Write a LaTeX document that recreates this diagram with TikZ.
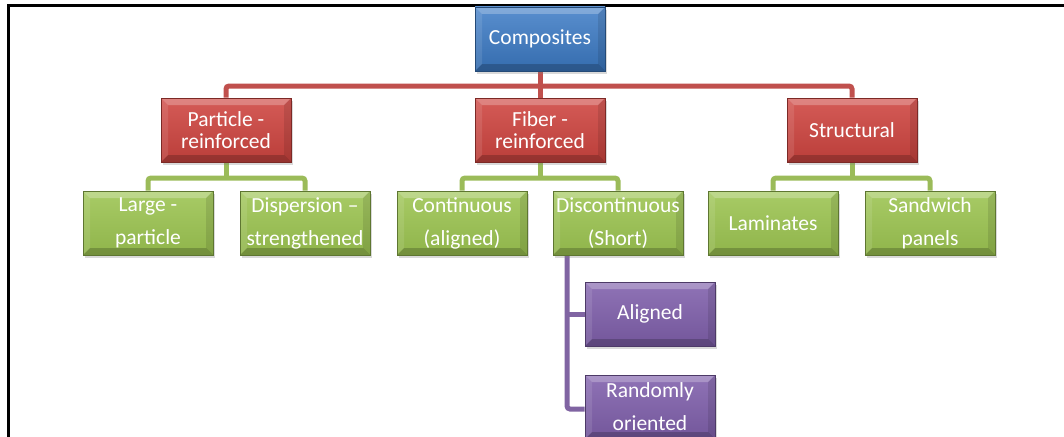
\documentclass[tikz,border=0pt]{standalone}
\usepackage{fontspec}
\setmainfont{Carlito}
\usepackage{tikz}
\usetikzlibrary{positioning,calc,shadows,backgrounds}
\definecolor{compblue}{HTML}{3C7BC6}
\definecolor{compred}{HTML}{CF4540}
\definecolor{compgreen}{HTML}{9CC451}
\definecolor{comppurple}{HTML}{8060AC}
\definecolor{linkred}{HTML}{C0504D}
\definecolor{linkgreen}{HTML}{9BBB59}
\definecolor{linkpurple}{HTML}{8064A2}
\tikzset{
    tree bevel/.style={
        path picture={
            \coordinate (bnw) at (path picture bounding box.north west);
            \coordinate (bne) at (path picture bounding box.north east);
            \coordinate (bsw) at (path picture bounding box.south west);
            \coordinate (bse) at (path picture bounding box.south east);
            \fill[white, opacity=0.25] (bnw) -- (bne) -- ([xshift=-7pt,yshift=-7pt]bne) -- ([xshift=7pt,yshift=-7pt]bnw) -- cycle;
            \fill[white, opacity=0.1] (bnw) -- (bsw) -- ([xshift=7pt,yshift=7pt]bsw) -- ([xshift=7pt,yshift=-7pt]bnw) -- cycle;
            \fill[black, opacity=0.2] (bsw) -- (bse) -- ([xshift=-7pt,yshift=7pt]bse) -- ([xshift=7pt,yshift=7pt]bsw) -- cycle;
            \fill[black, opacity=0.1] (bne) -- (bse) -- ([xshift=-7pt,yshift=7pt]bse) -- ([xshift=-7pt,yshift=-7pt]bne) -- cycle;
        }
    },
    tree box/.style={
        tree bevel,
        minimum width=130pt,
        minimum height=64pt,
        inner sep=0pt,
        align=center,
        text=white,
        font=\fontsize{21.5}{33}\selectfont,
        drop shadow={opacity=0.3, shadow xshift=2pt, shadow yshift=-3pt}
    },
    tree top/.style={tree box, top color=compblue!85!white, bottom color=compblue!88!black, draw=compblue!60!black, line width=0.6pt},
    tree red/.style={tree box, top color=compred!88!white, bottom color=compred!90!black, draw=compred!60!black, line width=0.6pt, font=\fontsize{21.5}{22}\selectfont},
    tree green/.style={tree box, top color=compgreen!88!white, bottom color=compgreen!92!black, draw=compgreen!60!black, line width=0.6pt},
    tree purple/.style={tree box, top color=comppurple!88!white, bottom color=comppurple!90!black, draw=comppurple!60!black, line width=0.6pt},
    tree link/.style={line width=5pt, rounded corners=3pt},
    red link/.style={tree link, draw=linkred},
    green link/.style={tree link, draw=linkgreen},
    purple link/.style={tree link, draw=linkpurple}
}

\begin{document}
\begin{tikzpicture}[x=1pt, y=-1pt]
\useasboundingbox (0,0) rectangle (1064,436);
\draw[line width=3pt, line cap=rect] (8,440) -- (8,6) -- (1070,6);

% bus lines
\coordinate (rbus) at (540,86);
\coordinate (gbus) at (0,178);
\coordinate (pvx) at (567,0);

% levels
\node[tree top] (comp) at (540,39) {Composites};

\node[tree red] (pr) at (226,130) {Particle -\\reinforced};
\node[tree red] (fr) at (540,130) {Fiber -\\reinforced};
\node[tree red] (st) at (852,130) {Structural};

\node[tree green] (lp) at (148,223) {Large -\\particle};
\node[tree green] (ds) at (305,223) {Dispersion --\\strengthened};
\node[tree green] (co) at (462,223) {Continuous\\(aligned)};
\node[tree green] (dc) at (618,223) {Discontinuous\\(Short)};
\node[tree green] (lm) at (773,223) {Laminates};
\node[tree green] (sw) at (930,223) {Sandwich\\panels};

\node[tree purple] (al) at (650,314) {Aligned};
\node[tree purple] (ro) at (650,407) {Randomly\\oriented};

% connectors
\begin{scope}[on background layer]
\draw[red link] (pr.north) -- (pr.north |- rbus) -- (st.north |- rbus) -- (st.north);
\draw[red link] (comp.south) -- (fr.north);
\draw[green link] (lp.north) -- (lp.north |- gbus) -- (ds.north |- gbus) -- (ds.north);
\draw[green link] (pr.south) -- (pr.south |- gbus);
\draw[green link] (co.north) -- (co.north |- gbus) -- (dc.north |- gbus) -- (dc.north);
\draw[green link] (fr.south) -- (fr.south |- gbus);
\draw[green link] (lm.north) -- (lm.north |- gbus) -- (sw.north |- gbus) -- (sw.north);
\draw[green link] (st.south) -- (st.south |- gbus);
\draw[purple link] (dc.south -| pvx) |- ([yshift=-2pt]ro.west);
\draw[purple link] (al.west -| pvx) -- (al.west);
\end{scope}
\end{tikzpicture}
\end{document}
